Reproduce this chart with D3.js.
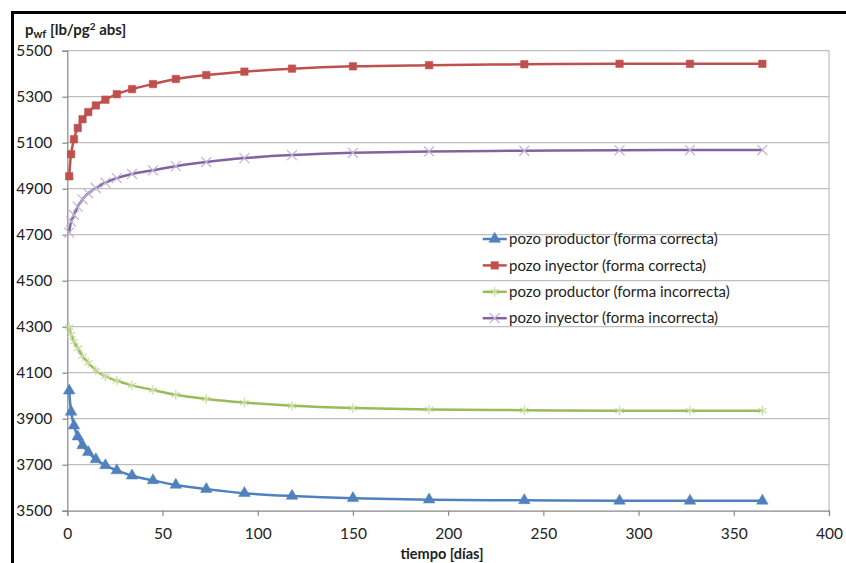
<!DOCTYPE html>
<html><head><meta charset="utf-8">
<script src="https://cdn.jsdelivr.net/npm/d3@7"></script>
<style>
html,body{margin:0;padding:0;background:#fff;}
svg{display:block;font-family:Lato,"Liberation Sans",sans-serif;}
</style></head>
<body><svg id="chart" width="846" height="563"></svg>
<script>
const days = [1, 2, 3.5, 5.5, 8, 11, 15, 20, 26, 34, 45, 57, 73, 93, 118, 150, 190, 240, 290, 327, 365];
const productorCorrecta = [4022, 3930, 3870, 3822, 3784, 3754, 3723, 3697, 3675, 3652, 3632, 3612, 3594, 3576, 3564, 3554, 3548, 3545, 3543, 3543, 3543];
const inyectorCorrecta = [4954, 5050, 5115, 5164, 5202, 5233, 5262, 5287, 5311, 5333, 5355, 5377, 5394, 5409, 5422, 5432, 5437, 5441, 5443, 5443, 5443];
const productorIncorrecta = [4298, 4265, 4235, 4206, 4172, 4143, 4110, 4084, 4065, 4045, 4025, 4004, 3986, 3970, 3956, 3946, 3940, 3937, 3935, 3935, 3935];
const inyectorIncorrecta = [4709, 4757, 4786, 4822, 4854, 4880, 4903, 4926, 4946, 4964, 4980, 4998, 5016, 5033, 5046, 5056, 5062, 5065, 5067, 5068, 5068];
const seriesNames = ["pozo productor (forma correcta)", "pozo inyector (forma correcta)", "pozo productor (forma incorrecta)", "pozo inyector (forma incorrecta)"];
const xTicks = [0, 50, 100, 150, 200, 250, 300, 350, 400];
const yTicks = [3500, 3700, 3900, 4100, 4300, 4500, 4700, 4900, 5100, 5300, 5500];
const yTitle = "p|wf| [lb/pg|2| abs]";
const xTitle = "tiempo [días]";

const series = [
  {name: seriesNames[0], values: productorCorrecta, color: "#4F81BD", mcolor: "#4F81BD", marker: "triangle"},
  {name: seriesNames[1], values: inyectorCorrecta, color: "#C0504D", mcolor: "#C0504D", marker: "square"},
  {name: seriesNames[2], values: productorIncorrecta, color: "#9BBB59", mcolor: "#C9DCA6", marker: "star"},
  {name: seriesNames[3], values: inyectorIncorrecta, color: "#8064A2", mcolor: "#BFB1D4", marker: "x"}
];

const svg = d3.select("#chart");
const L = 67.3, R = 829, T = 50.7, B = 510.7;
const x = d3.scaleLinear().domain([0, 400]).range([L, R]);
const y = d3.scaleLinear().domain([3500, 5500]).range([B, T]);

// outer black frame
svg.append("rect").attr("x", 12.5).attr("y", 12.5).attr("width", 900).attr("height", 700)
  .attr("fill", "none").attr("stroke", "#000").attr("stroke-width", 3);

// gridlines
svg.append("g").selectAll("line").data(yTicks.filter(d => d > 3500)).join("line")
  .attr("x1", L).attr("x2", R).attr("y1", d => y(d)).attr("y2", d => y(d))
  .attr("stroke", "#BEBEBE").attr("stroke-width", 1.2);
// right border of plot area
svg.append("line").attr("x1", R).attr("x2", R).attr("y1", T).attr("y2", B)
  .attr("stroke", "#BEBEBE").attr("stroke-width", 1.2);

// axes
const xAxis = svg.append("g").attr("transform", `translate(0,${B})`)
  .call(d3.axisBottom(x).tickValues(xTicks).tickSize(5).tickPadding(12).tickFormat(d3.format("d")));
const yAxis = svg.append("g").attr("transform", `translate(${L},0)`)
  .call(d3.axisLeft(y).tickValues(yTicks).tickSize(5).tickPadding(10).tickFormat(d3.format("d")));
[xAxis, yAxis].forEach(a => {
  a.select(".domain").attr("stroke", "#888").attr("stroke-width", 1.2);
  a.selectAll(".tick line").attr("stroke", "#888").attr("stroke-width", 1.2);
  a.selectAll("text").attr("fill", "#222").style("font-size", "15.5px").style("font-family", "Lato, 'Liberation Sans', sans-serif");
});

// lines
const line = d3.line().x(d => x(d[0])).y(d => y(d[1])).curve(d3.curveCatmullRom.alpha(0.5));
const sym = {
  triangle: d3.symbol().type(d3.symbolTriangle).size(58),
  square: d3.symbol().type(d3.symbolSquare).size(56),
  star: d3.symbol().type(d3.symbolAsterisk).size(66),
  x: d3.symbol().type(d3.symbolTimes).size(66)
};
series.forEach(s => {
  const pts = days.map((d, i) => [d, s.values[i]]);
  svg.append("path").datum(pts).attr("d", line).attr("fill", "none")
    .attr("stroke", s.color).attr("stroke-width", 2.5);
  const g = svg.append("g");
  g.selectAll("path").data(pts).join("path")
    .attr("transform", d => `translate(${x(d[0])},${y(d[1])})`)
    .attr("d", sym[s.marker])
    .attr("fill", (s.marker === "star" || s.marker === "x") ? "none" : s.mcolor)
    .attr("stroke", s.mcolor)
    .attr("stroke-width", (s.marker === "star" || s.marker === "x") ? 1.2 : 0.5);
});

// legend
const leg = svg.append("g");
series.forEach((s, i) => {
  const yy = 239 + i * 26.4;
  leg.append("line").attr("x1", 482.7).attr("x2", 506.7).attr("y1", yy).attr("y2", yy)
    .attr("stroke", s.color).attr("stroke-width", 2.5);
  leg.append("path").attr("transform", `translate(494.7,${yy})`).attr("d", sym[s.marker])
    .attr("fill", (s.marker === "star" || s.marker === "x") ? "none" : s.mcolor)
    .attr("stroke", s.mcolor).attr("stroke-width", (s.marker === "star" || s.marker === "x") ? 1.2 : 0.5);
  leg.append("text").attr("x", 509).attr("y", yy).attr("dy", "0.35em")
    .attr("fill", "#222").style("font-size", "15px").text(s.name);
});

// y title
const parts = yTitle.split("|");
const yt = svg.append("text").attr("x", 25).attr("y", 35).attr("font-weight", "bold")
  .attr("fill", "#222").style("font-size", "15px");
yt.append("tspan").text(parts[0]);
yt.append("tspan").attr("dy", 3).style("font-size", "11px").text(parts[1]);
yt.append("tspan").attr("dy", -3).text(parts[2]);
yt.append("tspan").attr("dy", -5).style("font-size", "10px").text(parts[3]);
yt.append("tspan").attr("dy", 5).text(parts[4]);

// x title
svg.append("text").attr("x", 442).attr("y", 554).attr("dy", "0.35em").attr("text-anchor", "middle")
  .attr("font-weight", "bold").attr("fill", "#222").style("font-size", "14.5px").text(xTitle);
</script></body></html>
